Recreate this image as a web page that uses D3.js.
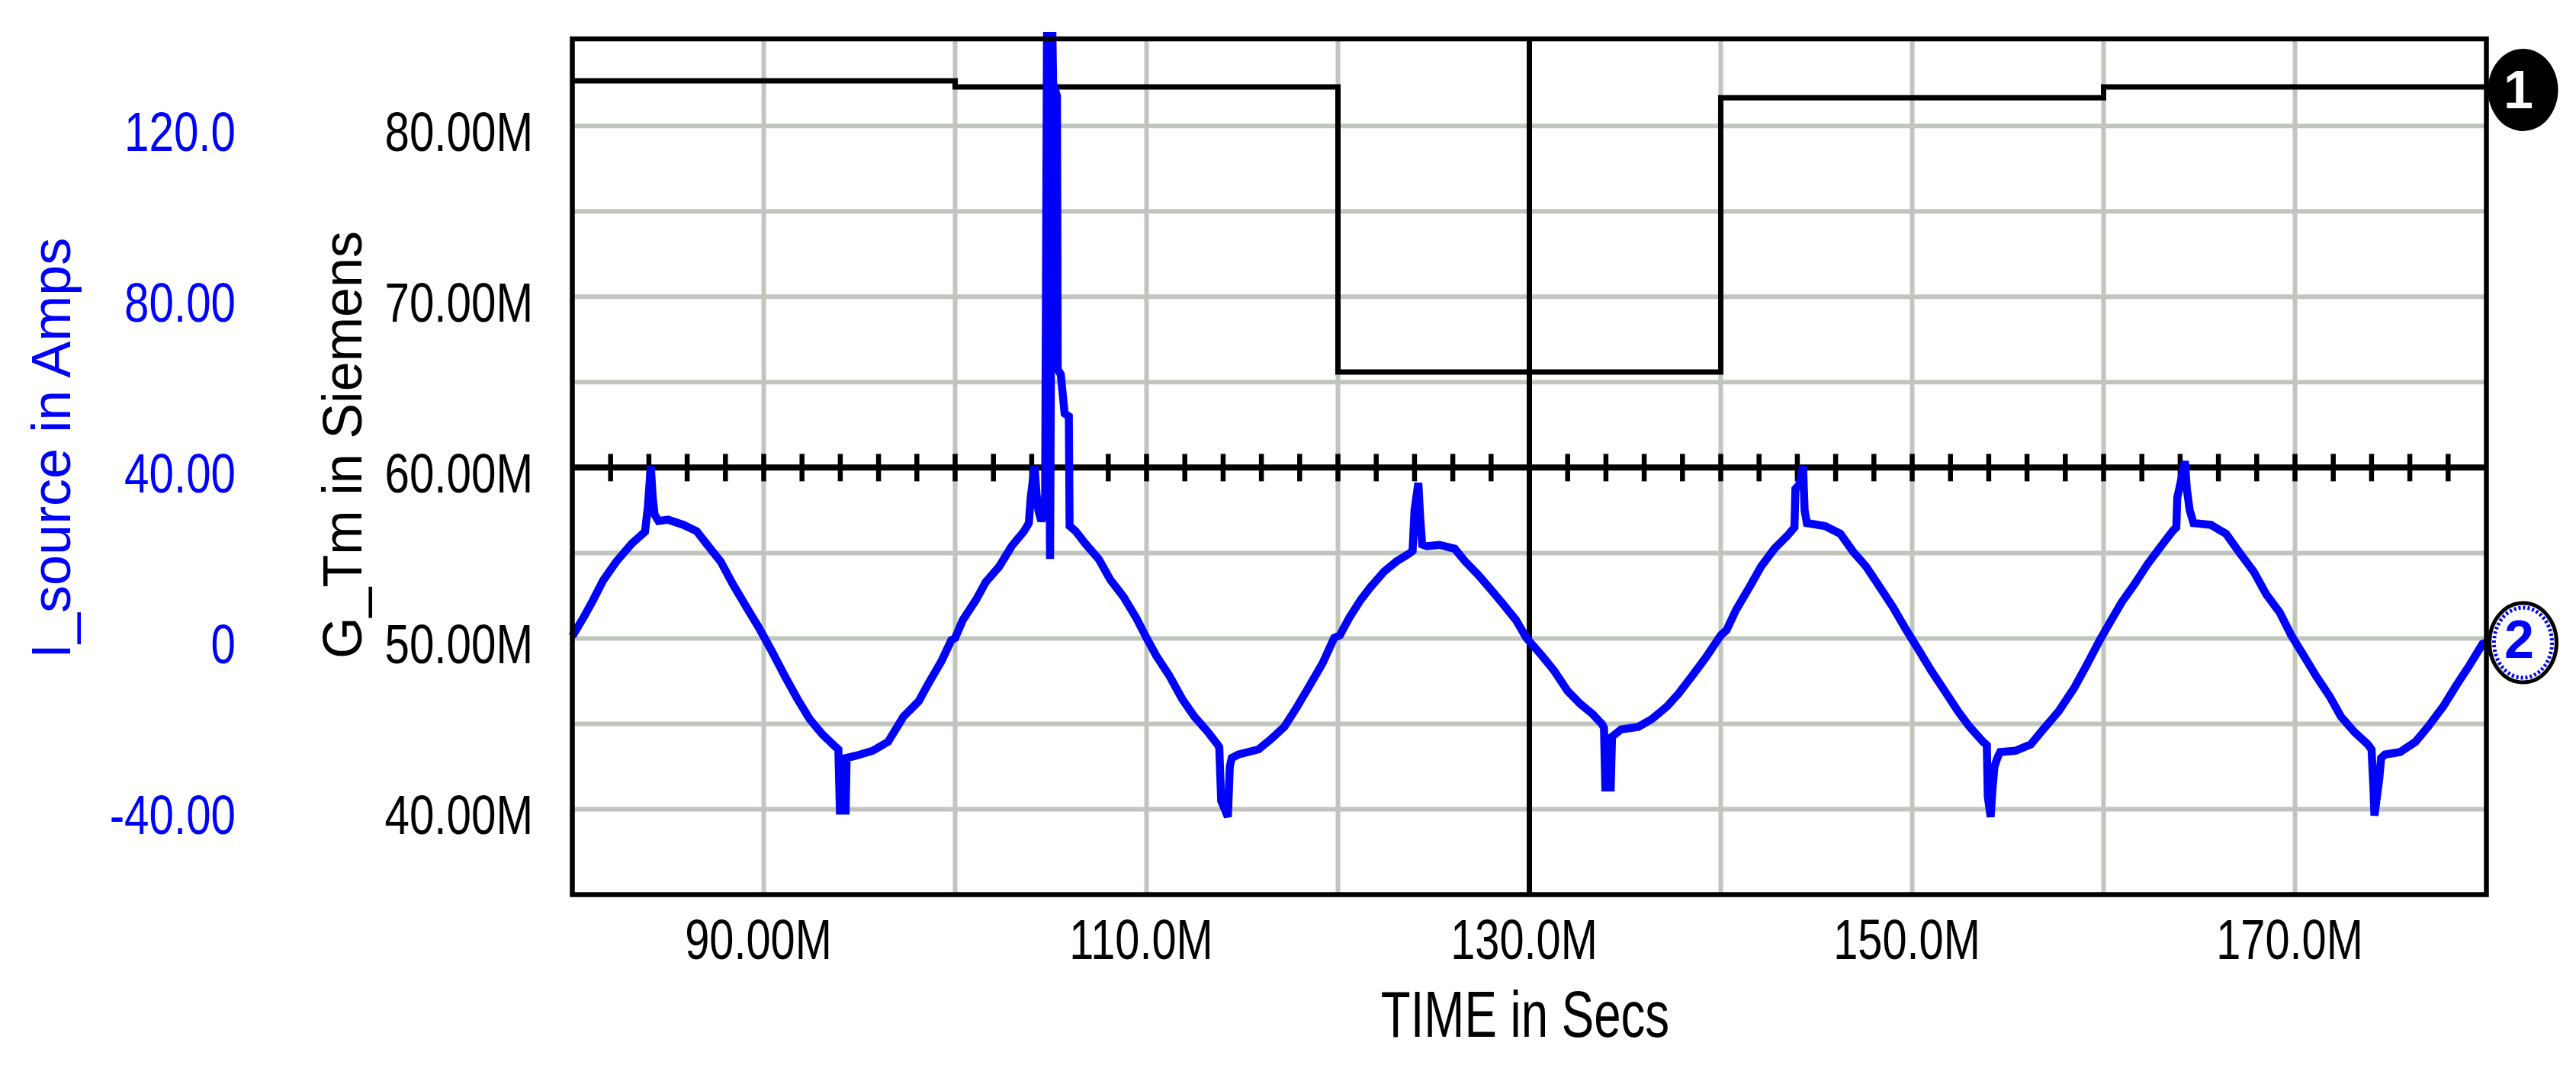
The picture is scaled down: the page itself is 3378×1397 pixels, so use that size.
<!DOCTYPE html>
<html>
<head>
<meta charset="utf-8">
<script src="https://cdn.jsdelivr.net/npm/d3@7"></script>
<style>
  html, body { margin: 0; padding: 0; background: #ffffff; }
  svg { display: block; }
  text { font-family: "Liberation Sans", Arial, Helvetica, sans-serif; }
</style>
</head>
<body>
<script>
// ---------------- DATA ----------------
// G_Tm (Siemens, in M units) step waveform
const gtmTime = [80, 100, 120, 140, 160, 180];
const gtmValue = [82.65, 82.29, 65.6, 81.65, 82.29, 82.29];

// I_source (Amps) vs TIME (M units)
const isrcTime = [
  80.0, 80.2, 80.6, 81.1, 81.6, 82.3, 83.1, 83.8, 83.95, 84.1, 84.2, 84.3, 84.5, 85.0, 85.8, 86.5, 87.0, 87.75, 88.4, 89.1, 89.75,
  90.4, 91.1, 91.75, 92.4, 93.05, 93.75, 93.9, 93.98, 94.28, 94.33, 94.8, 95.7, 96.5, 97.3, 98.1, 98.6, 99.3, 99.8,
  100.0, 100.4, 101.1, 101.6, 102.3, 102.95, 103.6, 103.85, 103.95, 104.15, 104.25, 104.35, 104.5, 104.7, 104.8, 104.96, 105.08,
  105.12, 105.32, 105.36, 105.52, 105.72, 105.94, 105.98, 106.3, 106.8, 107.5, 108.1, 108.8, 109.45,
  110.0, 110.5, 111.2, 111.85, 112.5, 113.2, 113.7, 113.8, 113.9, 114.25, 114.35, 114.45, 114.8, 115.85, 116.5, 117.2, 117.8, 118.5, 119.2, 119.8,
  120.1, 120.6, 121.2, 121.7, 122.4, 123.05, 123.7, 123.9, 124.0, 124.2, 124.3, 124.4, 124.65, 125.3, 126.1, 126.65, 127.3, 128.0, 128.65, 129.3, 129.85,
  130.65, 131.3, 132.0, 132.65, 133.3, 133.8, 133.9, 133.97, 134.25, 134.32, 134.8, 135.7, 136.4, 137.2, 137.8, 138.5, 139.2,
  140.0, 140.3, 140.8, 141.5, 142.1, 142.8, 143.45, 143.85, 143.9, 144.1, 144.3, 144.38, 144.5, 144.65, 145.45, 146.25, 146.9, 147.6, 148.4, 149.0, 149.7,
  150.35, 151.0, 151.7, 152.4, 153.0, 153.7, 153.9, 153.95, 154.1, 154.2, 154.3, 154.45, 154.6, 155.4, 156.2, 156.85, 157.65, 158.45, 159.1, 159.8,
  160.3, 160.95, 161.6, 162.3, 162.9, 163.6, 163.8, 163.85, 164.0, 164.25, 164.35, 164.5, 164.7, 165.6, 166.4, 167.05, 167.85, 168.5, 169.2, 169.8,
  170.45, 171.1, 171.8, 172.4, 173.1, 173.8, 174.0, 174.1, 174.15, 174.25, 174.4, 174.5, 174.7, 175.5, 176.3, 176.95, 177.75, 178.4, 179.1, 179.8, 180.0
];
const isrcAmps = [
  0.5, 2, 5, 9.1, 13.5, 18, 22.2, 25, 31, 40.3, 33, 29, 27.5, 27.8, 26.6, 25.1, 22.2, 18, 12.6, 7.3, 2.5,
  -2.8, -8.8, -14.1, -18.9, -22.4, -25.4, -26, -40.3, -40.3, -28, -27.5, -26.3, -24.2, -18.3, -14.7, -10.6, -5.2, -0.4,
  0.1, 4.3, 9.1, 13.2, 16.8, 21.6, 25.1, 27, 33, 40.3, 34, 30, 27.5, 30, 142, 18.6, 142,
  130, 127, 63, 61.8, 52.7, 52, 26.3, 25.1, 22.2, 18.6, 13.8, 9.7, 4.9,
  0.1, -4.0, -8.8, -14.1, -18.3, -21.9, -24.8, -25.5, -38, -41.8, -30, -28, -27.2, -26.0, -23.6, -20.7, -16.5, -11.2, -5.8, 0.1,
  0.75, 4.9, 9.1, 12.0, 15.6, 18.0, 19.8, 20.5, 30, 36.4, 28, 22, 21.6, 21.9, 21.0, 18.0, 15.0, 11.4, 7.9, 4.3, 0.1,
  -4.0, -7.6, -12.3, -15.3, -17.7, -20.1, -21, -34.9, -34.9, -23, -21.3, -20.7, -18.9, -15.9, -12.9, -8.8, -4.6,
  0.75, 1.9, 6.7, 12.0, 16.8, 21.0, 23.9, 26, 35, 36, 40.3, 30, 27, 26.9, 26.3, 24.5, 20.4, 16.8, 11.4, 7.3, 1.9,
  -2.8, -7.6, -12.3, -17.1, -20.7, -24.2, -25, -37, -41.8, -35, -30, -28, -26.6, -26.3, -24.8, -21.3, -17.1, -11.7, -6.4, -0.4,
  3.5, 8.5, 12.6, 17.4, 21.0, 25.1, 26, 33, 36, 41.5, 35, 30, 27, 26.6, 24.5, 20.4, 15.6, 10.3, 6.1, 0.75,
  -4.0, -8.8, -13.5, -18.3, -21.9, -24.8, -26, -35, -41.5, -38, -33, -28, -27.2, -26.6, -24.2, -20.7, -15.9, -11.2, -6.4, -1.3, -1
];

// Axis ticks / labels
const timeTickValues = [90, 110, 130, 150, 170];
const timeTickLabels = ["90.00M", "110.0M", "130.0M", "150.0M", "170.0M"];
const timeGridValues = [90, 100, 110, 120, 140, 150, 160, 170];
const timeCursor = 130;
const timeMinorTicks = d3.range(82, 180, 2);

const gtmTickValues = [80, 70, 60, 50, 40];
const gtmTickLabels = ["80.00M", "70.00M", "60.00M", "50.00M", "40.00M"];
const gtmGridValues = [40, 45, 50, 55, 65, 70, 75, 80];
const gtmDivider = 60;

const isrcTickValues = [120, 80, 40, 0, -40];
const isrcTickLabels = ["120.0", "80.00", "40.00", "0", "-40.00"];

const xTitle = "TIME in Secs";
const gtmTitle = "G_Tm in Siemens";
const isrcTitle = "I_source in Amps";

// ---------------- LAYOUT ----------------
const W = 3378, H = 1397;
const pL = 750.5, pR = 3260.5, pT = 51, pB = 1173.5;
const BLUE = "#0000ff", GRID = "#c0c5bd";

const svg = d3.select("body").append("svg").attr("width", W).attr("height", H);

const x = d3.scaleLinear().domain([80, 180]).range([pL, pR]);
const yG = d3.scaleLinear().domain([35, 85.1]).range([pB, pT]);
const yI = d3.scaleLinear().domain([-60, 140.4]).range([pB, pT]);

// gridlines
svg.append("g").selectAll("line").data(gtmGridValues).join("line")
  .attr("x1", pL).attr("x2", pR)
  .attr("y1", d => yG(d)).attr("y2", d => yG(d))
  .attr("stroke", GRID).attr("stroke-width", 6);
svg.append("g").selectAll("line").data(timeGridValues).join("line")
  .attr("x1", d => x(d)).attr("x2", d => x(d))
  .attr("y1", pT).attr("y2", pB)
  .attr("stroke", GRID).attr("stroke-width", 6);

// cursor line at 130M
svg.append("line")
  .attr("x1", x(timeCursor)).attr("x2", x(timeCursor))
  .attr("y1", pT).attr("y2", pB)
  .attr("stroke", "#000").attr("stroke-width", 7);

// divider line with ticks
svg.append("line")
  .attr("x1", pL).attr("x2", pR)
  .attr("y1", yG(gtmDivider)).attr("y2", yG(gtmDivider))
  .attr("stroke", "#000").attr("stroke-width", 8);
svg.append("g").selectAll("line").data(timeMinorTicks).join("line")
  .attr("x1", d => x(d)).attr("x2", d => x(d))
  .attr("y1", yG(gtmDivider) - 18).attr("y2", yG(gtmDivider) + 18)
  .attr("stroke", "#000").attr("stroke-width", 6.5);

// G_Tm step trace
const gtmData = gtmTime.map((t, i) => [t, gtmValue[i]]);
svg.append("path")
  .datum(gtmData)
  .attr("d", d3.line().x(d => x(d[0])).y(d => yG(d[1])).curve(d3.curveStepAfter))
  .attr("fill", "none").attr("stroke", "#000").attr("stroke-width", 7);

// I_source trace
const isrcData = isrcTime.map((t, i) => [t, isrcAmps[i]]);
svg.append("path")
  .datum(isrcData)
  .attr("d", d3.line().x(d => x(d[0])).y(d => yI(d[1])))
  .attr("fill", "none").attr("stroke", BLUE).attr("stroke-width", 10.5)
  .attr("stroke-linejoin", "miter").attr("stroke-miterlimit", 2);

// frame
svg.append("rect")
  .attr("x", pL).attr("y", pT)
  .attr("width", pR - pL).attr("height", pB - pT)
  .attr("fill", "none").attr("stroke", "#000").attr("stroke-width", 6.5);

// helper for horizontally condensed text
function label(g, txt, tx, ty, size, sx, anchor, fill) {
  g.append("text")
    .attr("transform", `translate(${tx},${ty}) scale(${sx},1)`)
    .attr("text-anchor", anchor)
    .attr("font-size", size)
    .attr("fill", fill)
    .text(txt);
}

// left axis labels: I_source
const gI = svg.append("g");
isrcTickValues.forEach((v, i) => label(gI, isrcTickLabels[i], 309, yI(v) + 32.5, 72, 0.81, "end", BLUE));
// left axis labels: G_Tm
const gG = svg.append("g");
gtmTickValues.forEach((v, i) => label(gG, gtmTickLabels[i], 699, yG(v) + 32.5, 72, 0.81, "end", "#000"));
// x labels
const gX = svg.append("g");
timeTickValues.forEach((v, i) => label(gX, timeTickLabels[i], x(v) - 7, 1257.5, 75, 0.77, "middle", "#000"));
// x title
label(svg, xTitle, 2000, 1360, 86, 0.74, "middle", "#000");

// rotated titles
svg.append("text")
  .attr("transform", "translate(92,864) rotate(-90)")
  .attr("text-anchor", "start").attr("font-size", 72).attr("fill", BLUE)
  .text(isrcTitle);
svg.append("text")
  .attr("transform", "translate(474,864) rotate(-90) scale(0.974,1)")
  .attr("text-anchor", "start").attr("font-size", 72).attr("fill", "#000")
  .text(gtmTitle);

// trace badges
const bx = pR + 48;
const b1y = yG(gtmValue[gtmValue.length - 1]) + 4;
svg.append("ellipse").attr("cx", bx).attr("cy", b1y).attr("rx", 46).attr("ry", 54).attr("fill", "#000");
svg.append("text").attr("x", bx - 6).attr("y", b1y + 24).attr("text-anchor", "middle")
  .attr("font-size", 70).attr("font-weight", "bold").attr("fill", "#fff").text("1");

const b2y = yI(isrcAmps[isrcAmps.length - 1]);
svg.append("ellipse").attr("cx", bx).attr("cy", b2y).attr("rx", 44).attr("ry", 52)
  .attr("fill", "#fff").attr("stroke", "#000").attr("stroke-width", 5);
svg.append("ellipse").attr("cx", bx).attr("cy", b2y).attr("rx", 38).attr("ry", 46)
  .attr("fill", "none").attr("stroke", BLUE).attr("stroke-width", 5).attr("stroke-dasharray", "3,3");
svg.append("text").attr("x", bx - 5).attr("y", b2y + 20).attr("text-anchor", "middle")
  .attr("font-size", 70).attr("font-weight", "bold").attr("fill", BLUE).text("2");
</script>
</body>
</html>
